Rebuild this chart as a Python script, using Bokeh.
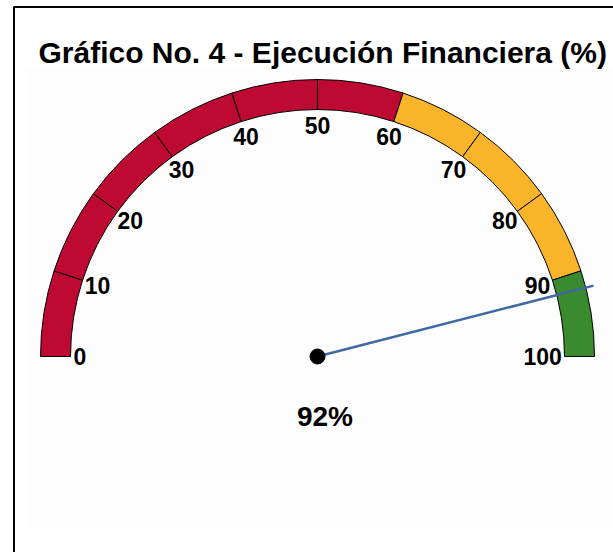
import numpy as np
from bokeh.plotting import figure
from bokeh.models import Range1d, ColumnDataSource, Label, BoxAnnotation
from bokeh.core.properties import value
from bokeh.embed import file_html
from bokeh.resources import INLINE

# ---- data ----
title_text = "Gráfico No. 4 -  Ejecución Financiera (%)"
band_starts = [0, 10, 20, 30, 40, 50, 60, 70, 80, 90]
band_ends = [10, 20, 30, 40, 50, 60, 70, 80, 90, 100]
band_colors = ["#BE0A32", "#BE0A32", "#BE0A32", "#BE0A32", "#BE0A32", "#BE0A32",
               "#F9B42A", "#F9B42A", "#F9B42A", "#3A8A2F"]
tick_values = [0, 10, 20, 30, 40, 50, 60, 70, 80, 90, 100]
tick_labels = ["0", "10", "20", "30", "40", "50", "60", "70", "80", "90", "100"]
gauge_value = 92

# ---- layout (pixel-like data space) ----
W, H = 613, 552
cx, cy = 317, 196
r_in, r_out = 247, 277
r_lab = 244
r_needle = 285

def ang(v):
    return np.pi * (1 - np.asarray(v, dtype=float) / 100.0)

p = figure(width=W, height=H, x_range=Range1d(0, W), y_range=Range1d(0, H),
           output_backend="svg", toolbar_location=None,
           x_axis_location=None, y_axis_location=None, min_border=0,
           outline_line_color=None, background_fill_color="white",
           border_fill_color="white")
p.grid.visible = False

# faint plot-area background
p.add_layout(BoxAnnotation(left=27, right=W + 50, bottom=25, top=484,
                           fill_color="#FDFDFD", fill_alpha=1, line_color=None,
                           level="underlay"))
# outer frame (left and top edges visible)
p.line(x=[13.5, 13.5, W + 20], y=[-20, H - 6.5, H - 6.5], line_color="black",
       line_width=2)

# gauge bands
bands = ColumnDataSource(dict(start=ang(band_ends), end=ang(band_starts), color=band_colors))
p.annular_wedge(x=cx, y=cy, inner_radius=r_in, outer_radius=r_out,
                start_angle="start", end_angle="end", fill_color="color",
                line_color="black", line_width=1, source=bands)

# tick labels
t = ang(tick_values)
lab = ColumnDataSource(dict(
    x=cx + r_lab * np.cos(t),
    y=cy + r_lab * np.sin(t),
    text=tick_labels,
    xo=-np.cos(t) * np.array([12.6 * len(s) / 2 for s in tick_labels]),
    yo=np.sin(t) * 13,
))
p.text(x="x", y="y", text="text", x_offset="xo", y_offset="yo", source=lab,
       text_align="center", text_baseline="middle",
       text_font=value("Liberation Sans"), text_font_style="bold",
       text_font_size="23px", text_color="black")

# needle
na = float(ang(gauge_value))
p.segment(x0=[cx], y0=[cy], x1=[cx + r_needle * np.cos(na)], y1=[cy + r_needle * np.sin(na)],
          line_color="#3E69A3", line_width=2.5)
p.scatter(x=[cx], y=[cy], size=15, color="black")

# value text
p.text(x=[cx], y=[cy], text=[f"{gauge_value}%"], x_offset=7.5, y_offset=60,
       text_align="center", text_baseline="middle",
       text_font=value("Liberation Sans"), text_font_style="bold",
       text_font_size="28px", text_color="black")

# title
p.add_layout(Label(x=38, y=500, text=title_text, text_baseline="alphabetic",
                   text_font="Liberation Sans", text_font_style="bold",
                   text_font_size="30px", text_color="black"))

open("out.html", "w").write(file_html(p, INLINE))
